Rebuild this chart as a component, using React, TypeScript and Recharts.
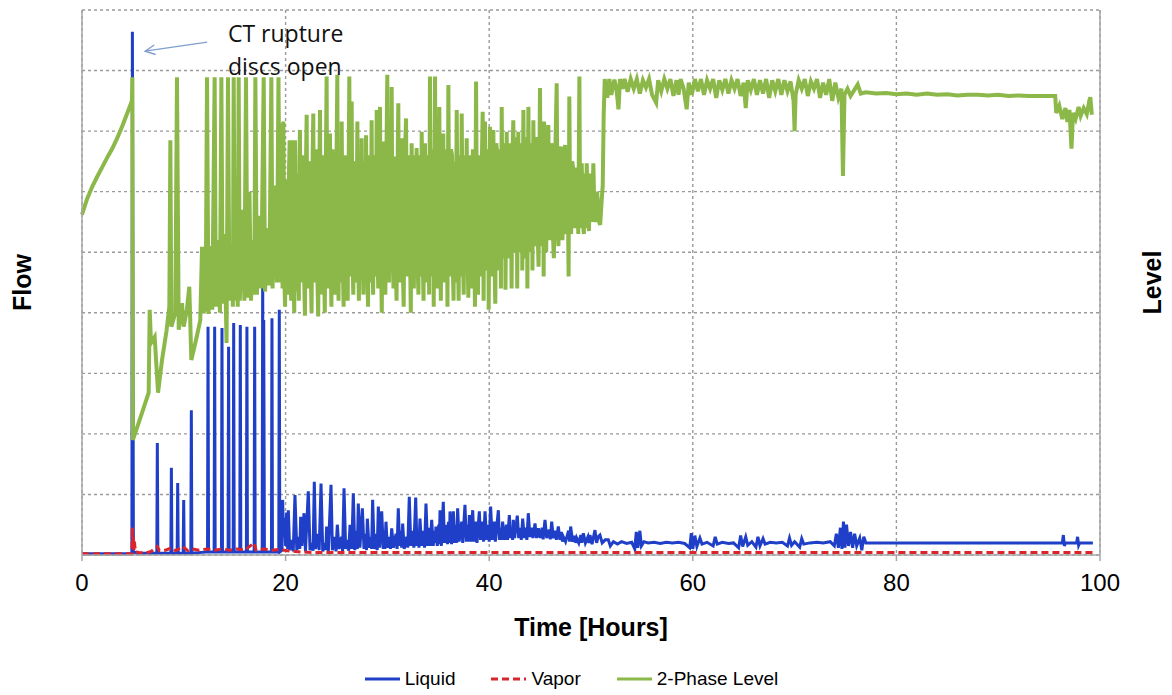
import React from 'react';
import {
  LineChart,
  Line,
  XAxis,
  YAxis,
  CartesianGrid,
  Legend,
  ReferenceLine,
  ReferenceDot,
} from 'recharts';

// time ticks (hours) and grid rows (no numeric labels on either y axis)
const timeTicks = [0, 20, 40, 60, 80, 100];
const gridTicks = [0, 1, 2, 3, 4, 5, 6, 7, 8, 9];
const legendOrder = ['Liquid', 'Vapor', '2-Phase Level'];

// [time in hours, value in grid units]
const liquid: [number, number][] = [
  [0, 0.02], [4.9, 0.02], [4.95, 8.64], [5.05, 0.05], [5.5, 0.03],
  [7.35, 0.03], [7.4, 1.85], [7.45, 0.03], [8.73, 0.03], [8.78, 1.44], [8.83, 0.03],
  [9.35, 0.03], [9.4, 1.19], [9.45, 0.03], [9.94, 0.03], [9.99, 0.91], [10.04, 0.03],
  [10.69, 0.03], [10.74, 2.39], [10.79, 0.03], [12.33, 0.05], [12.38, 3.77], [12.43, 0.05],
  [12.98, 0.05], [13.03, 3.77], [13.08, 0.05], [13.7, 0.05], [13.75, 3.75], [13.8, 0.05],
  [14.35, 0.05], [14.4, 3.44], [14.45, 0.05], [14.85, 0.05], [14.9, 3.83], [14.95, 0.05],
  [15.5, 0.05], [15.55, 3.8], [15.6, 0.05], [16.15, 0.05], [16.2, 3.77], [16.25, 0.05],
  [16.91, 0.05], [16.96, 3.77], [17.01, 0.05], [17.7, 0.05], [17.75, 4.74], [17.8, 0.1],
  [17.85, 3.88], [17.92, 0.05], [18.61, 0.05], [18.66, 3.91], [18.71, 0.05],
  [19.33, 0.05], [19.38, 4.05], [19.43, 0.05], [19.65, 0.08], [19.71, 0.91], [19.8, 0.3],
  [19.9, 0.62], [20.0, 0.15], [20.1, 0.7], [20.2, 0.1], [20.27, 0.74], [20.4, 0.08],
  [20.6, 0.25], [20.75, 0.06], [20.92, 0.99], [21.1, 0.08], [21.3, 0.3], [21.4, 0.1],
  [21.48, 0.63], [21.6, 0.15], [21.81, 0.69], [21.95, 0.06], [22.23, 1.05], [22.4, 0.08],
  [22.6, 0.2], [22.7, 0.07], [22.82, 1.21], [22.95, 0.1], [23.2, 0.35], [23.3, 0.08],
  [23.48, 1.18], [23.65, 0.06], [23.85, 0.2], [23.95, 0.08], [24.03, 0.47], [24.2, 0.06],
  [24.46, 1.16], [24.6, 0.08], [24.85, 0.3], [24.95, 0.06], [25.08, 0.5], [25.25, 0.1],
  [25.5, 0.3], [25.6, 0.06], [25.74, 1.1], [25.9, 0.1], [26.1, 0.25], [26.2, 0.07],
  [26.33, 0.5], [26.5, 0.1], [26.65, 1.02], [26.8, 0.08], [26.95, 0.4], [27.05, 0.1],
  [27.14, 0.85], [27.3, 0.12], [27.54, 0.77], [27.7, 0.1], [27.85, 0.35], [27.95, 0.08],
  [28.03, 0.6], [28.2, 0.12], [28.4, 0.3], [28.45, 0.1], [28.55, 0.91], [28.7, 0.1],
  [28.9, 0.35], [29.0, 0.08], [29.11, 0.8], [29.25, 0.12], [29.44, 0.72], [29.6, 0.1],
  [29.7, 0.3], [29.75, 0.1], [29.86, 0.55], [30.0, 0.12], [30.2, 0.3], [30.3, 0.1],
  [30.42, 0.44], [30.6, 0.12], [30.85, 0.35], [30.95, 0.1], [31.07, 0.77], [31.2, 0.15],
  [31.35, 0.4], [31.4, 0.12], [31.5, 0.52], [31.65, 0.1], [31.9, 0.3], [32.0, 0.12],
  [32.15, 0.96], [32.3, 0.15], [32.5, 0.4], [32.6, 0.12], [32.78, 0.95], [32.9, 0.15],
  [33.05, 0.35], [33.1, 0.12], [33.2, 0.6], [33.35, 0.15], [33.55, 0.4], [33.65, 0.12],
  [33.79, 0.85], [33.95, 0.15], [34.15, 0.45], [34.2, 0.15], [34.35, 0.58], [34.5, 0.15],
  [34.65, 0.4], [34.7, 0.2], [34.77, 0.47], [34.9, 0.15], [35.05, 0.5], [35.1, 0.18],
  [35.17, 0.74], [35.3, 0.15], [35.49, 0.88], [35.6, 0.2], [35.8, 0.5], [35.9, 0.18],
  [36.0, 0.55], [36.1, 0.2], [36.15, 0.72], [36.3, 0.18], [36.48, 0.72], [36.6, 0.2],
  [36.75, 0.5], [36.8, 0.2], [36.9, 0.77], [37.05, 0.22], [37.3, 0.55], [37.4, 0.2],
  [37.62, 0.83], [37.75, 0.22], [37.9, 0.5], [37.95, 0.22], [38.05, 0.66], [38.2, 0.22],
  [38.38, 0.74], [38.5, 0.22], [38.7, 0.55], [38.8, 0.2], [39.03, 0.72], [39.15, 0.25],
  [39.35, 0.55], [39.45, 0.22], [39.59, 0.72], [39.75, 0.25], [39.95, 0.5], [40.0, 0.22],
  [40.14, 0.8], [40.3, 0.25], [40.5, 0.55], [40.6, 0.22], [40.9, 0.74], [41.0, 0.25],
  [41.15, 0.45], [41.2, 0.25], [41.32, 0.55], [41.5, 0.25], [41.7, 0.5], [41.8, 0.25],
  [41.98, 0.66], [42.1, 0.28], [42.25, 0.45], [42.3, 0.25], [42.37, 0.58], [42.5, 0.28],
  [42.76, 0.65], [42.9, 0.28], [43.1, 0.45], [43.15, 0.25], [43.29, 0.6], [43.45, 0.28],
  [43.6, 0.45], [43.7, 0.25], [43.84, 0.69], [44.0, 0.3], [44.2, 0.45], [44.3, 0.28],
  [44.5, 0.52], [44.65, 0.28], [44.83, 0.44], [45.0, 0.28], [45.2, 0.45], [45.3, 0.26],
  [45.48, 0.58], [45.65, 0.28], [45.9, 0.42], [46.0, 0.26], [46.14, 0.55], [46.3, 0.28],
  [46.5, 0.4], [46.6, 0.25], [46.79, 0.47], [46.95, 0.25], [47.1, 0.38], [47.2, 0.22],
  [47.28, 0.3], [47.5, 0.22], [47.8, 0.4], [47.9, 0.22], [48.0, 0.47], [48.2, 0.22],
  [48.4, 0.32], [48.5, 0.2], [48.59, 0.28], [48.8, 0.2], [49.0, 0.33], [49.1, 0.2],
  [49.25, 0.36], [49.45, 0.2], [49.7, 0.3], [49.8, 0.2], [49.9, 0.33], [50.1, 0.18],
  [50.39, 0.41], [50.55, 0.2], [50.7, 0.3], [50.88, 0.33], [51.1, 0.2], [51.4, 0.25],
  [51.7, 0.25], [51.9, 0.15], [52.2, 0.22], [52.6, 0.18], [53.0, 0.22], [53.5, 0.19],
  [54.0, 0.21], [54.3, 0.1], [54.45, 0.38], [54.6, 0.12], [54.8, 0.4], [54.95, 0.15],
  [55.2, 0.22], [55.6, 0.2], [56.2, 0.21], [56.8, 0.19], [57.4, 0.21], [58.0, 0.2],
  [58.6, 0.21], [59.2, 0.19], [59.7, 0.12], [59.85, 0.36], [60.0, 0.1], [60.2, 0.32],
  [60.4, 0.14], [60.7, 0.28], [60.9, 0.18], [61.4, 0.21], [62.0, 0.15], [62.2, 0.3],
  [62.4, 0.18], [62.9, 0.21], [63.5, 0.19], [64.0, 0.2], [64.5, 0.12], [64.7, 0.32],
  [64.9, 0.14], [65.2, 0.3], [65.4, 0.16], [65.8, 0.22], [66.2, 0.13], [66.4, 0.3],
  [66.6, 0.15], [66.9, 0.27], [67.1, 0.18], [67.6, 0.21], [68.2, 0.2], [68.8, 0.21],
  [69.3, 0.15], [69.5, 0.28], [69.7, 0.16], [70.0, 0.22], [70.5, 0.13], [70.7, 0.27],
  [70.9, 0.18], [71.5, 0.2], [72.2, 0.21], [72.8, 0.2], [73.5, 0.22], [73.9, 0.15],
  [74.1, 0.35], [74.3, 0.12], [74.5, 0.45], [74.65, 0.1], [74.8, 0.55], [74.95, 0.12],
  [75.1, 0.5], [75.3, 0.15], [75.5, 0.38], [75.7, 0.12], [75.9, 0.35], [76.1, 0.15],
  [76.4, 0.28], [76.6, 0.08], [76.8, 0.3], [77.0, 0.2], [80.0, 0.2], [85.0, 0.2],
  [90.0, 0.2], [95.0, 0.2], [96.3, 0.2], [96.4, 0.33], [96.5, 0.15], [96.6, 0.2],
  [97.7, 0.2], [97.8, 0.3], [97.9, 0.16], [98.0, 0.2], [99.3, 0.2],
];

const vapor: [number, number][] = [
  [0, 0.02], [4.9, 0.02], [4.95, 0.46], [5.0, 0.1], [5.05, 0.3], [5.1, 0.08], [5.15, 0.22],
  [5.25, 0.05], [5.6, 0.04], [6.2, 0.03], [6.8, 0.06], [7.4, 0.14], [7.6, 0.07], [8.2, 0.08],
  [8.8, 0.12], [9.2, 0.07], [9.9, 0.14], [10.4, 0.07], [10.8, 0.1], [11.5, 0.08], [12.3, 0.1],
  [13.0, 0.08], [13.8, 0.1], [14.5, 0.08], [15.2, 0.1], [16.0, 0.08], [16.9, 0.2], [17.1, 0.08],
  [17.8, 0.1], [18.6, 0.08], [19.4, 0.09], [20.2, 0.07], [21.5, 0.05], [23.0, 0.04], [99.3, 0.04],
];

const level: [number, number][] = [
  [0, 5.62], [0.5, 5.88], [1, 6.08], [1.5, 6.25], [2, 6.41], [2.5, 6.57], [3, 6.72],
  [3.5, 6.9], [4, 7.1], [4.5, 7.32], [4.9, 7.5], [4.95, 7.89], [5.0, 1.9], [5.5, 2.15],
  [6.0, 2.4], [6.55, 2.68], [6.65, 4.05], [6.78, 3.5], [7.14, 3.6], [7.47, 2.68], [7.86, 3.22],
  [8.3, 3.7], [8.58, 4.1], [8.68, 6.85], [8.78, 3.77], [9.17, 4.0], [9.33, 7.89], [9.5, 3.72],
  [9.82, 4.16], [9.99, 3.77], [10.3, 4.05], [10.54, 4.43], [10.74, 3.22], [11.2, 3.55],
  [11.62, 3.88], [11.79, 5.09], [11.95, 4.0], [12.15, 4.1], [12.28, 7.89], [12.42, 3.98],
  [12.6, 5.1], [12.8, 4.05], [13.03, 7.89], [13.15, 4.1], [13.35, 5.2], [13.55, 4.0],
  [13.69, 7.89], [13.82, 4.15], [14.0, 5.3], [14.2, 3.5], [14.34, 7.89], [14.48, 4.2],
  [14.7, 5.0], [14.82, 4.1], [14.9, 7.89], [15.02, 4.2], [15.2, 5.3], [15.3, 4.1],
  [15.39, 7.89], [15.5, 4.2], [15.75, 5.7], [15.95, 4.2], [16.11, 7.89], [16.25, 4.25],
  [16.45, 6.0], [16.6, 4.2], [16.8, 5.2], [16.92, 4.3], [17.03, 7.89], [17.18, 4.3],
  [17.4, 5.6], [17.6, 4.4], [17.85, 7.89], [17.98, 4.35], [18.2, 5.4], [18.4, 4.45],
  [18.6, 7.89], [18.72, 4.4], [18.95, 6.1], [19.15, 4.5], [19.3, 7.89], [19.45, 4.5],
  [19.6, 7.13], [19.7, 4.4], [19.78, 7.16], [19.87, 4.6], [19.95, 4.1], [20.02, 5.8],
  [20.1, 6.2], [20.18, 4.5], [20.27, 4.3], [20.34, 6.4], [20.4, 6.85], [20.48, 4.6],
  [20.55, 4.2], [20.62, 6.3], [20.7, 6.85], [20.78, 4.5], [20.85, 4.0], [20.92, 6.85],
  [20.98, 5.2], [21.05, 4.35], [21.12, 6.3], [21.2, 5.9], [21.25, 4.6], [21.3, 4.2],
  [21.36, 6.5], [21.41, 7.02], [21.48, 5.0], [21.55, 4.5], [21.65, 6.6], [21.75, 6.4],
  [21.82, 4.6], [21.9, 3.95], [21.98, 6.2], [22.07, 7.27], [22.13, 5.0], [22.2, 4.4],
  [22.3, 6.5], [22.4, 6.0], [22.47, 4.7], [22.55, 4.0], [22.63, 6.3], [22.72, 7.29],
  [22.78, 5.0], [22.85, 4.5], [22.95, 6.7], [23.05, 6.5], [23.12, 4.6], [23.2, 3.94],
  [23.3, 6.1], [23.38, 7.35], [23.44, 5.1], [23.5, 4.3], [23.6, 6.6], [23.7, 6.2],
  [23.78, 4.7], [23.85, 4.0], [23.95, 6.4], [24.03, 7.9], [24.09, 5.2], [24.15, 4.4],
  [24.25, 6.5], [24.36, 6.96], [24.43, 4.8], [24.5, 4.1], [24.6, 6.7], [24.7, 6.3],
  [24.8, 4.7], [24.9, 4.3], [25.0, 6.5], [25.08, 7.93], [25.14, 5.0], [25.2, 4.2],
  [25.28, 6.6], [25.35, 6.1], [25.45, 4.5], [25.51, 7.16], [25.6, 4.9], [25.7, 4.1],
  [25.8, 6.6], [25.9, 6.4], [26.0, 4.7], [26.1, 4.2], [26.18, 6.2], [26.26, 7.9],
  [26.32, 5.2], [26.38, 4.6], [26.49, 7.49], [26.57, 5.0], [26.65, 4.3], [26.75, 6.5],
  [26.85, 6.2], [26.9, 4.8], [26.95, 4.5], [27.05, 7.16], [27.12, 5.0], [27.2, 4.2],
  [27.28, 6.3], [27.35, 6.5], [27.4, 4.7], [27.47, 6.88], [27.56, 4.9], [27.65, 4.3],
  [27.72, 6.5], [27.8, 6.0], [27.85, 4.6], [27.9, 6.93], [28.0, 4.8], [28.1, 4.1],
  [28.2, 6.6], [28.3, 6.4], [28.35, 4.5], [28.45, 7.18], [28.52, 5.0], [28.6, 4.3],
  [28.7, 6.6], [28.8, 6.3], [28.85, 4.6], [28.95, 7.35], [29.02, 5.1], [29.1, 4.4],
  [29.18, 6.5], [29.27, 7.4], [29.36, 4.9], [29.45, 4.0], [29.52, 6.2], [29.6, 6.83],
  [29.7, 4.8], [29.8, 4.3], [29.9, 6.5], [29.99, 7.93], [30.07, 5.0], [30.15, 4.5],
  [30.22, 6.8], [30.3, 6.6], [30.35, 4.8], [30.42, 7.73], [30.5, 5.0], [30.6, 4.4],
  [30.68, 6.3], [30.75, 6.58], [30.82, 4.8], [30.9, 4.2], [31.0, 6.4], [31.07, 7.46],
  [31.15, 5.1], [31.25, 4.5], [31.32, 6.4], [31.4, 6.88], [31.5, 4.8], [31.6, 4.1],
  [31.7, 6.5], [31.83, 7.21], [31.92, 5.0], [32.0, 4.6], [32.1, 6.6], [32.2, 6.2],
  [32.25, 4.6], [32.3, 4.0], [32.38, 6.8], [32.48, 5.1], [32.6, 4.4], [32.68, 6.6],
  [32.75, 6.3], [32.8, 4.8], [32.87, 6.72], [32.95, 4.9], [33.05, 4.3], [33.12, 6.6],
  [33.2, 6.4], [33.3, 4.6], [33.37, 6.99], [33.46, 5.0], [33.55, 4.2], [33.62, 6.4],
  [33.69, 6.8], [33.78, 4.9], [33.85, 4.5], [33.92, 6.6], [34.0, 6.3], [34.1, 4.3],
  [34.18, 7.9], [34.26, 5.2], [34.35, 4.6], [34.42, 6.7], [34.5, 6.4], [34.55, 4.1],
  [34.68, 7.9], [34.76, 5.0], [34.85, 4.4], [34.95, 6.6], [35.02, 5.3], [35.1, 7.4],
  [35.18, 5.0], [35.25, 4.2], [35.35, 6.5], [35.42, 5.2], [35.49, 6.96], [35.57, 5.0],
  [35.65, 4.5], [35.72, 6.7], [35.8, 6.5], [35.9, 4.1], [35.99, 7.76], [36.07, 5.2],
  [36.15, 4.6], [36.25, 6.7], [36.35, 6.6], [36.42, 4.8], [36.5, 4.2], [36.58, 6.5],
  [36.65, 6.3], [36.7, 4.5], [36.81, 7.35], [36.9, 5.1], [37.0, 4.2], [37.08, 6.6],
  [37.15, 6.4], [37.2, 4.6], [37.3, 7.29], [37.4, 5.0], [37.5, 4.3], [37.58, 6.6],
  [37.65, 6.1], [37.7, 4.7], [37.79, 6.88], [37.87, 5.0], [37.95, 4.25], [38.05, 6.6],
  [38.15, 6.5], [38.22, 4.9], [38.3, 4.4], [38.4, 6.7], [38.5, 6.2], [38.55, 4.8],
  [38.6, 4.1], [38.71, 7.82], [38.8, 5.2], [38.9, 4.3], [39.0, 6.6], [39.1, 6.4],
  [39.2, 4.6], [39.28, 6.5], [39.36, 7.32], [39.45, 4.2], [39.52, 6.2], [39.59, 7.16],
  [39.67, 5.1], [39.75, 4.7], [39.82, 6.7], [39.9, 6.5], [39.95, 4.05], [40.08, 7.07],
  [40.17, 5.0], [40.25, 4.6], [40.33, 6.5], [40.41, 7.02], [40.5, 5.0], [40.6, 4.15],
  [40.7, 6.8], [40.8, 6.6], [40.88, 5.0], [40.95, 4.7], [41.02, 6.7], [41.1, 6.3],
  [41.15, 4.4], [41.23, 7.4], [41.32, 5.2], [41.4, 4.9], [41.48, 6.8], [41.55, 6.6],
  [41.6, 4.38], [41.72, 6.99], [41.8, 5.2], [41.9, 4.9], [42.0, 6.8], [42.1, 6.5],
  [42.2, 4.4], [42.28, 6.6], [42.37, 7.18], [42.44, 5.3], [42.5, 5.0], [42.6, 6.9],
  [42.7, 6.7], [42.75, 4.4], [42.86, 6.99], [42.95, 5.3], [43.05, 5.0], [43.12, 6.8],
  [43.2, 6.6], [43.25, 4.7], [43.36, 7.35], [43.45, 5.2], [43.55, 4.9], [43.62, 6.9],
  [43.7, 6.8], [43.75, 4.4], [43.85, 7.4], [43.95, 5.3], [44.05, 5.0], [44.12, 6.8],
  [44.2, 6.6], [44.25, 4.7], [44.34, 7.18], [44.42, 5.3], [44.5, 5.1], [44.6, 6.9],
  [44.7, 6.8], [44.78, 5.2], [44.85, 4.76], [44.99, 7.71], [45.07, 5.3], [45.15, 5.1],
  [45.22, 6.8], [45.3, 6.7], [45.35, 4.6], [45.39, 7.16], [45.5, 5.3], [45.6, 5.0],
  [45.7, 6.9], [45.81, 7.1], [45.9, 5.4], [46.0, 5.2], [46.1, 6.8], [46.2, 6.6],
  [46.28, 5.2], [46.35, 4.9], [46.5, 6.7], [46.63, 7.79], [46.72, 5.4], [46.8, 5.1],
  [46.9, 6.7], [47.02, 6.74], [47.1, 5.4], [47.2, 5.2], [47.32, 6.6], [47.45, 6.77],
  [47.52, 5.4], [47.6, 5.3], [47.7, 6.4], [47.8, 4.6], [47.87, 7.57], [47.96, 5.5],
  [48.05, 5.3], [48.15, 6.5], [48.27, 6.36], [48.36, 5.5], [48.45, 5.4], [48.55, 6.4],
  [48.65, 6.2], [48.75, 5.3], [48.86, 7.9], [48.93, 5.6], [49.0, 5.4], [49.09, 6.47],
  [49.2, 5.5], [49.3, 5.3], [49.38, 6.3], [49.45, 6.1], [49.5, 5.4], [49.58, 6.47],
  [49.7, 5.6], [49.8, 5.35], [49.9, 6.3], [50.0, 6.0], [50.1, 5.5], [50.23, 6.47],
  [50.33, 5.7], [50.45, 5.5], [50.6, 6.0], [50.72, 5.7], [50.8, 5.5], [50.9, 5.45],
  [51.05, 5.86], [51.15, 6.09], [51.25, 7.3], [51.35, 7.86], [51.6, 7.55],
  [51.8, 7.86], [52.0, 7.6], [52.3, 7.85], [52.5, 7.7], [52.7, 7.36], [52.85, 7.86],
  [53.1, 7.7], [53.3, 7.86], [53.6, 7.65], [53.9, 7.86], [54.2, 7.7], [54.5, 7.86],
  [54.8, 7.62], [55.1, 7.84], [55.4, 7.72], [55.7, 7.86], [56.0, 7.6], [56.4, 7.47],
  [56.6, 7.84], [56.9, 7.66], [57.2, 7.86], [57.5, 7.7], [57.8, 7.86], [58.1, 7.58],
  [58.4, 7.84], [58.6, 7.6], [58.8, 7.86], [59.1, 7.7], [59.4, 7.36], [59.6, 7.8],
  [59.9, 7.6], [60.2, 7.86], [60.5, 7.66], [60.8, 7.86], [61.1, 7.6], [61.4, 7.84],
  [61.7, 7.7], [62.0, 7.86], [62.3, 7.55], [62.6, 7.84], [62.9, 7.68], [63.2, 7.86],
  [63.5, 7.62], [63.8, 7.84], [64.1, 7.7], [64.4, 7.86], [64.7, 7.58], [65.0, 7.8],
  [65.2, 7.38], [65.4, 7.84], [65.7, 7.68], [66.0, 7.86], [66.3, 7.6], [66.6, 7.84],
  [66.9, 7.62], [67.2, 7.86], [67.5, 7.55], [67.8, 7.84], [68.1, 7.66], [68.4, 7.86],
  [68.7, 7.6], [69.0, 7.84], [69.3, 7.66], [69.6, 7.82], [69.9, 7.5], [70.0, 7.0],
  [70.1, 7.6], [70.4, 7.84], [70.7, 7.7], [71.0, 7.86], [71.3, 7.58], [71.6, 7.82],
  [71.9, 7.7], [72.2, 7.86], [72.5, 7.55], [72.8, 7.8], [73.1, 7.6], [73.4, 7.86],
  [73.7, 7.5], [74.0, 7.8], [74.3, 7.55], [74.6, 7.7], [74.75, 6.26], [74.9, 7.6],
  [75.2, 7.7], [75.5, 7.58], [75.8, 7.66], [76.2, 7.77], [76.5, 7.62], [77.0, 7.64],
  [78.0, 7.62], [79.0, 7.63], [80.0, 7.61], [81.0, 7.62], [82.0, 7.6], [83.0, 7.62],
  [84.0, 7.6], [85.0, 7.61], [86.0, 7.59], [87.0, 7.6], [88.0, 7.6], [89.0, 7.59],
  [90.0, 7.6], [91.0, 7.58], [92.0, 7.59], [93.0, 7.58], [94.0, 7.58], [95.0, 7.58],
  [95.6, 7.58], [95.7, 7.3], [96.0, 7.42], [96.3, 7.2], [96.6, 7.38], [96.8, 7.15],
  [97.0, 7.35], [97.2, 6.71], [97.35, 7.3], [97.6, 7.2], [97.9, 7.4], [98.1, 7.25],
  [98.4, 7.38], [98.7, 7.28], [98.95, 7.5], [99.05, 7.56], [99.2, 7.27],
];

const toRows = (pairs: [number, number][]) => pairs.map(([t, v]) => ({ t, v }));

const FONT = '"Liberation Sans", Arial, sans-serif';
const AXIS_GREY = '#a6a6a6';

const ArrowShape = (props: any) => {
  const { x1, y1, x2, y2 } = props;
  const a = Math.atan2(y2 - y1, x2 - x1);
  const len = 11;
  const p1 = `${x2 - len * Math.cos(a - 0.45)},${y2 - len * Math.sin(a - 0.45)}`;
  const p2 = `${x2 - len * Math.cos(a + 0.45)},${y2 - len * Math.sin(a + 0.45)}`;
  return (
    <g stroke="#7f9fcf" strokeWidth={1.4} fill="none">
      <line x1={x1} y1={y1} x2={x2} y2={y2} />
      <polyline points={`${p1} ${x2},${y2} ${p2}`} />
    </g>
  );
};

const NoteLabel = (props: any) => {
  const { x, y } = props.viewBox;
  return (
    <text x={x} y={y} fontFamily='"Open Sans", sans-serif' fontSize={23} fill="#111">
      <tspan x={x} y={y}>CT rupture</tspan>
      <tspan x={x} y={y + 33}>discs open</tspan>
    </text>
  );
};

const NoTick = () => <g />;

const dashes: Record<string, string | undefined> = { Vapor: '7 4' };

const renderLegend = (props: any) => {
  const items = [...(props.payload || [])].sort(
    (a: any, b: any) => legendOrder.indexOf(a.value) - legendOrder.indexOf(b.value),
  );
  return (
    <div
      style={{
        display: 'flex',
        justifyContent: 'center',
        gap: 36,
        paddingRight: 29,
        fontFamily: FONT,
        fontSize: 19,
        lineHeight: '20px',
        color: '#000',
      }}
    >
      {items.map((e: any) => (
        <span key={e.value} style={{ display: 'inline-flex', alignItems: 'center' }}>
          <svg width={35} height={6}>
            <line x1={0} y1={3} x2={35} y2={3} stroke={e.color} strokeWidth={3} strokeDasharray={dashes[e.value]} />
          </svg>
          <span style={{ marginLeft: 5 }}>{e.value}</span>
        </span>
      ))}
    </div>
  );
};

export default function App() {
  return (
    <div style={{ position: 'absolute', left: 0, top: 0, width: 1172, height: 695, background: '#fff' }}>
      <LineChart
        width={1172}
        height={695}
        margin={{ top: 10, right: 0, bottom: 6, left: 0 }}
        style={{ fontFamily: FONT }}
      >
        <CartesianGrid
          stroke="#9a9a9a"
          strokeWidth={1.4}
          strokeDasharray="3 3"
          horizontalValues={gridTicks}
          verticalValues={timeTicks}
        />
        <XAxis
          type="number"
          dataKey="t"
          domain={[0, 100]}
          ticks={timeTicks}
          height={114}
          axisLine={{ stroke: AXIS_GREY, strokeWidth: 1.5 }}
          tickLine={{ stroke: AXIS_GREY, strokeWidth: 1.5 }}
          tickSize={6}
          tickMargin={13}
          tick={{ fontSize: 24, fill: '#000' }}
          label={{
            value: 'Time [Hours]',
            position: 'insideBottom',
            offset: 33,
            style: { fontSize: 25, fontWeight: 'bold', fill: '#000' },
          }}
        />
        <YAxis
          domain={[0, 9]}
          ticks={gridTicks}
          width={82}
          tick={<NoTick />}
          tickLine={false}
          axisLine={{ stroke: AXIS_GREY, strokeWidth: 1.5 }}
          label={{
            value: 'Flow',
            angle: -90,
            position: 'insideLeft',
            offset: 22,
            style: { fontSize: 25, fontWeight: 'bold', fill: '#000', textAnchor: 'middle' },
          }}
        />
        <YAxis
          yAxisId="right"
          orientation="right"
          domain={[0, 9]}
          ticks={gridTicks}
          width={72}
          tick={<NoTick />}
          tickLine={false}
          axisLine={{ stroke: AXIS_GREY, strokeWidth: 1.5 }}
          label={{
            value: 'Level',
            angle: -90,
            position: 'insideRight',
            offset: 20,
            style: { fontSize: 25, fontWeight: 'bold', fill: '#000', textAnchor: 'middle' },
          }}
        />
        <Legend verticalAlign="bottom" align="center" content={renderLegend} />
        <Line
          data={toRows(liquid)}
          dataKey="v"
          name="Liquid"
          type="linear"
          stroke="#1f3fc8"
          strokeWidth={3}
          dot={false}
          activeDot={false}
          isAnimationActive={false}
        />
        <Line
          data={toRows(vapor)}
          dataKey="v"
          name="Vapor"
          type="linear"
          stroke="#d9252b"
          strokeWidth={3}
          strokeDasharray="7 4"
          dot={false}
          activeDot={false}
          isAnimationActive={false}
        />
        <Line
          data={toRows(level)}
          dataKey="v"
          name="2-Phase Level"
          yAxisId="right"
          type="linear"
          stroke="#8cb84a"
          strokeWidth={4}
          dot={false}
          activeDot={false}
          isAnimationActive={false}
        />
        <ReferenceLine
          segment={[
            { x: 12.3, y: 8.47 },
            { x: 6.2, y: 8.32 },
          ]}
          shape={<ArrowShape />}
        />
        <ReferenceDot x={14.34} y={8.47} r={0} fill="none" stroke="none" label={<NoteLabel />} />
      </LineChart>
    </div>
  );
}
